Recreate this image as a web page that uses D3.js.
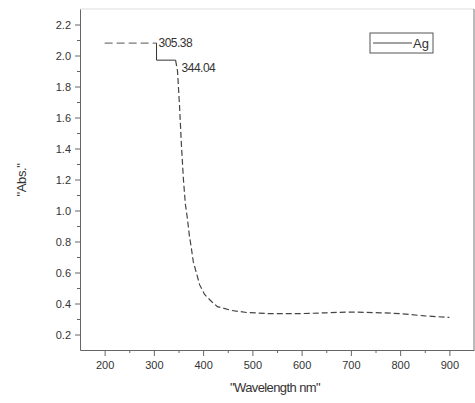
<!DOCTYPE html>
<html>
<head>
<meta charset="utf-8">
<script src="https://cdn.jsdelivr.net/npm/d3@7"></script>
<style>
  body { margin: 0; background: #fff; }
  svg { display: block; }
  text { font-family: "Liberation Sans", Arial, sans-serif; fill: #333; }
</style>
</head>
<body>
<svg id="chart" width="475" height="403"></svg>
<script>
// spectrum of the Ag sample
const wavelength = [200, 250, 305.38, 305.38, 344.04, 348, 352, 356, 360, 364, 368, 372, 376, 380, 387, 393, 403, 417, 429, 458, 488, 531, 600, 650, 700, 760, 800, 850, 900];
const absorbance = [2.08, 2.08, 2.08, 1.97, 1.97, 1.90, 1.68, 1.42, 1.20, 1.04, 0.95, 0.84, 0.76, 0.67, 0.59, 0.52, 0.458, 0.413, 0.38, 0.355, 0.342, 0.335, 0.335, 0.34, 0.345, 0.34, 0.335, 0.32, 0.31];
const peakLabels = [{wl: 305.38, abs: 2.08, dx: 2, dy: 4}, {wl: 344.04, abs: 1.97, dx: 6, dy: 12}];
const xTicks = [200, 300, 400, 500, 600, 700, 800, 900];
const yTicks = [0.2, 0.4, 0.6, 0.8, 1.0, 1.2, 1.4, 1.6, 1.8, 2.0, 2.2];
const seriesName = "Ag";

const svg = d3.select("#chart");
const plotLeft = 80, plotRight = 474, plotTop = 9, plotBottom = 350;

const x = d3.scaleLinear().domain([150, 950]).range([plotLeft, plotRight]);
const y = d3.scaleLinear().domain([0.1, 2.3]).range([plotBottom, plotTop]);

// frame
svg.append("line")
  .attr("x1", plotLeft).attr("x2", plotRight).attr("y1", plotTop).attr("y2", plotTop)
  .attr("stroke", "#ddd");
svg.append("line")
  .attr("x1", plotRight).attr("x2", plotRight).attr("y1", plotTop).attr("y2", plotBottom)
  .attr("stroke", "#777");

// minor ticks
svg.append("g")
  .attr("transform", `translate(0,${plotBottom})`)
  .call(d3.axisBottom(x).tickValues(d3.range(250, 950, 100)).tickSize(3).tickFormat(""))
  .call(g => g.select(".domain").remove());
svg.append("g")
  .attr("transform", `translate(${plotLeft},0)`)
  .call(d3.axisLeft(y).tickValues(d3.range(0.3, 2.3, 0.2)).tickSize(3).tickFormat(""))
  .call(g => g.select(".domain").remove());

// major axes
svg.append("g")
  .attr("transform", `translate(0,${plotBottom})`)
  .call(d3.axisBottom(x).tickValues(xTicks).tickSize(6).tickPadding(5).tickSizeOuter(0))
  .call(g => g.selectAll("text").style("font-size", "11px").attr("fill", "#333"));
svg.append("g")
  .attr("transform", `translate(${plotLeft},0)`)
  .call(d3.axisLeft(y).tickValues(yTicks).tickSize(5).tickPadding(4).tickSizeOuter(0)
        .tickFormat(d3.format(".1f")))
  .call(g => g.selectAll("text").style("font-size", "11px").attr("fill", "#333"));

svg.selectAll(".domain, .tick line").attr("stroke", "#666");

// curve
const pts = wavelength.map((w, i) => [w, absorbance[i]]);
const line = d3.line().x(d => x(d[0])).y(d => y(d[1]));

svg.append("path")
  .datum(pts.slice(0, 3))
  .attr("d", line)
  .attr("fill", "none").attr("stroke", "#555").attr("stroke-width", 1)
  .attr("stroke-dasharray", "8,4");
svg.append("path")
  .datum(pts.slice(2, 5))
  .attr("d", line)
  .attr("fill", "none").attr("stroke", "#333").attr("stroke-width", 1);
svg.append("path")
  .datum(pts.slice(4))
  .attr("d", line)
  .attr("fill", "none").attr("stroke", "#444").attr("stroke-width", 1.2)
  .attr("stroke-dasharray", "6,3");

// peak labels
svg.selectAll("text.peak")
  .data(peakLabels)
  .enter()
  .append("text")
  .attr("class", "peak")
  .attr("x", d => x(d.wl) + d.dx)
  .attr("y", d => y(d.abs) + d.dy)
  .style("font-size", "12px")
  .style("letter-spacing", "-0.5px")
  .text(d => d.wl.toFixed(2));

// axis titles
svg.append("text")
  .attr("x", 275).attr("y", 392)
  .attr("text-anchor", "middle")
  .style("font-size", "13px")
  .style("letter-spacing", "-0.6px")
  .text("\"Wavelength nm\"");
svg.append("text")
  .attr("transform", "translate(26,180) rotate(-90)")
  .attr("text-anchor", "middle")
  .style("font-size", "13px")
  .style("letter-spacing", "-0.4px")
  .text("\"Abs.\"");

// legend
const lg = svg.append("g").attr("transform", "translate(370,33)");
lg.append("rect")
  .attr("width", 63).attr("height", 20)
  .attr("fill", "#fff").attr("stroke", "#555");
lg.append("line")
  .attr("x1", 3).attr("x2", 42).attr("y1", 10).attr("y2", 10)
  .attr("stroke", "#444");
lg.append("text")
  .attr("x", 43).attr("y", 15)
  .style("font-size", "13px")
  .text(seriesName);
</script>
</body>
</html>
